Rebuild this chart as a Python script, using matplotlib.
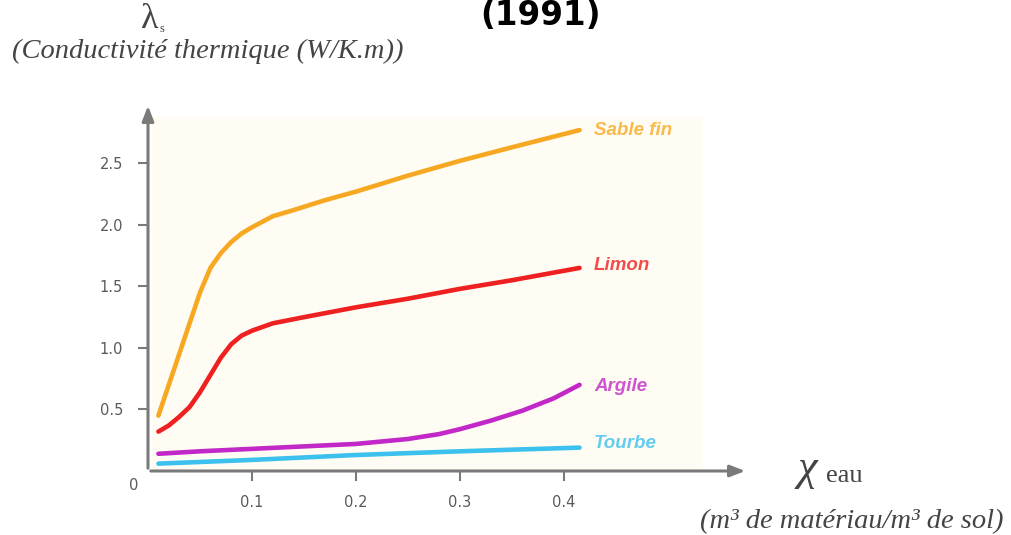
import matplotlib
matplotlib.use("Agg")
import matplotlib.pyplot as plt
from matplotlib.patches import Rectangle

# ---- data ----
sable_x = [0.01, 0.02, 0.03, 0.04, 0.05, 0.06, 0.07, 0.08, 0.09, 0.10, 0.12, 0.14, 0.17, 0.20, 0.25, 0.30, 0.35, 0.415]
sable_y = [0.45, 0.70, 0.95, 1.20, 1.45, 1.65, 1.77, 1.86, 1.93, 1.98, 2.07, 2.12, 2.20, 2.27, 2.40, 2.52, 2.63, 2.77]
limon_x = [0.01, 0.02, 0.03, 0.04, 0.05, 0.06, 0.07, 0.08, 0.09, 0.10, 0.12, 0.15, 0.20, 0.25, 0.30, 0.35, 0.415]
limon_y = [0.32, 0.37, 0.44, 0.52, 0.64, 0.78, 0.92, 1.03, 1.10, 1.14, 1.20, 1.25, 1.33, 1.40, 1.48, 1.55, 1.65]
argile_x = [0.01, 0.05, 0.10, 0.15, 0.20, 0.25, 0.28, 0.30, 0.33, 0.36, 0.39, 0.415]
argile_y = [0.14, 0.16, 0.18, 0.20, 0.22, 0.26, 0.30, 0.34, 0.41, 0.49, 0.59, 0.70]
tourbe_x = [0.01, 0.10, 0.20, 0.30, 0.415]
tourbe_y = [0.06, 0.09, 0.13, 0.16, 0.19]

series_names = ["Sable fin", "Limon", "Argile", "Tourbe"]
series_colors = ["#f7a823", "#ee2020", "#c228c8", "#3cc0ee"]
label_y = [2.77, 1.67, 0.69, 0.22]

xticks = [0.1, 0.2, 0.3, 0.4]
xticklabels = ["0.1", "0.2", "0.3", "0.4"]
yticks = [0.5, 1.0, 1.5, 2.0, 2.5]
yticklabels = ["0.5", "1.0", "1.5", "2.0", "2.5"]

W, H = 1012, 535
fig = plt.figure(figsize=(W / 100, H / 100), dpi=100)
fig.patch.set_facecolor("white")

x0, y0 = 148, 471
xmax, ymax = 0.577, 2.99
ax = fig.add_axes([x0 / W, (H - y0) / H, 600 / W, 368 / H])
ax.set_xlim(0, xmax)
ax.set_ylim(0, ymax)
ax.set_facecolor("none")
for s in ax.spines.values():
    s.set_visible(False)

gray = "#7a7a7a"
# faint cream background panel
ax.add_patch(Rectangle((0.004, 0.0), 0.53, 2.88, facecolor="#fffdf3", edgecolor="none", zorder=0))

# axes with arrows
ax.annotate("", xy=(xmax, 0), xytext=(0, 0), xycoords="data",
            arrowprops=dict(arrowstyle="-|>,head_length=0.9,head_width=0.35", color=gray, lw=2.2),
            annotation_clip=False)
ax.annotate("", xy=(0, ymax), xytext=(0, 0), xycoords="data",
            arrowprops=dict(arrowstyle="-|>,head_length=0.9,head_width=0.35", color=gray, lw=2.2),
            annotation_clip=False)

ax.set_xticks(xticks)
ax.set_xticklabels(xticklabels)
ax.set_yticks(yticks)
ax.set_yticklabels(yticklabels)
ax.tick_params(axis="both", colors=gray, length=7, width=1.5, labelsize=10.5, labelcolor="#5a5a5a")
ax.tick_params(axis="x", pad=10)
ax.tick_params(axis="y", pad=11)
ax.text(-0.014, -0.12, "0", color="#5a5a5a", fontsize=10.5, ha="center", va="center")

data = [(sable_x, sable_y), (limon_x, limon_y), (argile_x, argile_y), (tourbe_x, tourbe_y)]
for (xs, ys), name, c, ly in zip(data, series_names, series_colors, label_y):
    ax.plot(xs, ys, color=c, lw=3.3, solid_capstyle="round", zorder=3)
    ax.text(0.429, ly, name, color=c, fontsize=13.5, fontstyle="italic", fontweight="bold",
            family="Liberation Sans", ha="left", va="center", alpha=0.8)

# axis labels
serif = "Liberation Serif"
tc = "#444444"
fig.text(150 / W, 1 - 20 / H, "λ", fontsize=26, family=serif, color=tc, ha="center", va="center")
fig.text(162 / W, 1 - 29 / H, "s", fontsize=9, family=serif, color=tc, ha="center", va="center")
fig.text(12 / W, 1 - 51 / H, "(Conductivité thermique (W/K.m))", fontsize=20.5, family=serif,
         fontstyle="italic", color=tc, ha="left", va="center")
fig.text(798 / W, 1 - 469 / H, "χ", fontsize=32, family=serif, fontstyle="italic", color=tc,
         ha="left", va="center")
fig.text(826 / W, 1 - 476 / H, "eau", fontsize=19, family=serif, color=tc, ha="left", va="center")
fig.text(700 / W, 1 - 522 / H, "(m³ de matériau/m³ de sol)", fontsize=20.5, family=serif,
         fontstyle="italic", color=tc, ha="left", va="center")

# cut-off title
fig.text(480 / W, 1 - 25 / H, "(1991)", fontsize=23.5, fontweight="bold", color="black",
         family="DejaVu Sans", ha="left", va="baseline")

fig.savefig("out.png", dpi=100)
